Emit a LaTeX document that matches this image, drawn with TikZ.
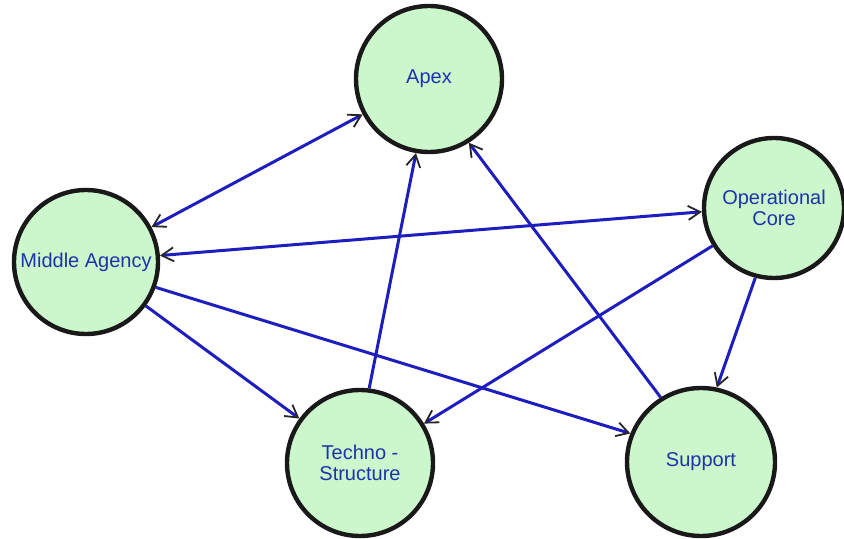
\documentclass[tikz,border=0pt]{standalone}
\usepackage{fontspec}
\setmainfont{Liberation Sans}
\usetikzlibrary{arrows.meta}
\definecolor{nodefill}{RGB}{204,246,204}
\definecolor{labelblue}{RGB}{28,52,170}
\definecolor{edgeblue}{RGB}{30,30,190}
\begin{document}
\begin{tikzpicture}[x=0.5pt,y=-0.5pt,
  >={Straight Barb[length=6pt,width=7pt,color=black!85,line width=0.9pt]},
  unit/.style={circle,draw=black!90,line width=2.2pt,fill=nodefill,
    text=labelblue,minimum size=#1,inner sep=0pt,align=center,
    font=\fontsize{10}{10.5}\selectfont},
  link/.style={draw=edgeblue,line width=1.5pt},
  oneway/.style={link,->},
  twoway/.style={link,<->}]
\useasboundingbox (0,0) rectangle (844,539);
\fill[white] (0,0) rectangle (844,539);

% organisation units
\node[unit=73pt] (apex)    at (429,79)  {Apex};
\node[unit=72pt] (middle)  at (86,262)  {Middle Agency};
\node[unit=70pt] (core)    at (774,208) {Operational\\Core};
\node[unit=73pt] (techno)  at (360,463) {Techno -\\Structure};
\node[unit=74pt] (support) at (701,462) {Support};

% relations between the units
\draw[twoway] (middle) -- (apex);
\draw[twoway] (middle.5) -- (core.183);
\draw[oneway] (middle) -- (techno);
\draw[oneway] (middle.-20) -- (support.158);
\draw[oneway] (techno.83) -- (apex.-100);
\draw[oneway] (support.122) -- (apex.-58);
\draw[oneway] (core) -- (techno);
\draw[oneway] (core.-105) -- (support.78);
\end{tikzpicture}
\end{document}
